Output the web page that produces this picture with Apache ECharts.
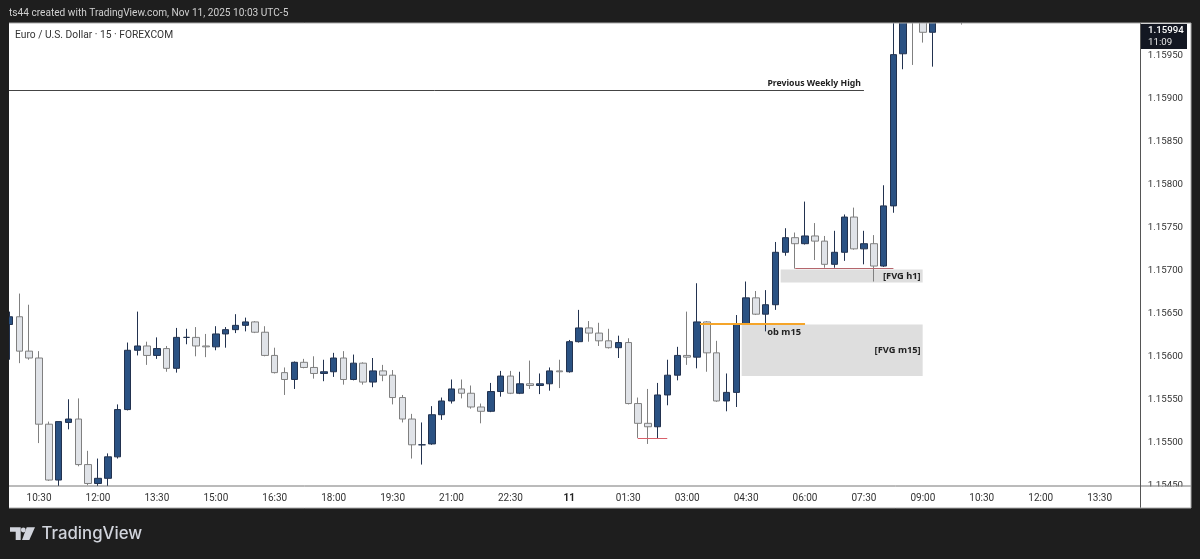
<!DOCTYPE html>
<html><head><meta charset="utf-8">
<style>html,body{margin:0;padding:0;background:#1e1e1e}#c{width:1200px;height:559px}</style>
<script src="https://cdn.jsdelivr.net/npm/echarts@6/dist/echarts.min.js"></script>
</head><body><div id="c"></div>
<script>
const times = ['09:45','10:00','10:15','10:30','10:45','11:00','11:15','11:30','11:45','12:00','12:15','12:30','12:45','13:00','13:15','13:30','13:45','14:00','14:15','14:30','14:45','15:00','15:15','15:30','15:45','16:00','16:15','16:30','16:45','17:00','17:15','17:30','17:45','18:00','18:15','18:30','18:45','19:00','19:15','19:30','19:45','20:00','20:15','20:30','20:45','21:00','21:15','21:30','21:45','22:00','22:15','22:30','22:45','23:00','23:15','23:30','23:45','11','00:15','00:30','00:45','01:00','01:15','01:30','01:45','02:00','02:15','02:30','02:45','03:00','03:15','03:30','03:45','04:00','04:15','04:30','04:45','05:00','05:15','05:30','05:45','06:00','06:15','06:30','06:45','07:00','07:15','07:30','07:45','08:00','08:15','08:30','08:45','09:00','09:15','09:30','09:45','10:00','10:15','10:30','10:45','11:00','11:15','11:30','11:45','12:00','12:15','12:30','12:45','13:00','13:15','13:30','13:45','14:00','14:15','14:30'];
const opens = [1.15637,1.15646,1.15606,1.15598,1.15521,1.15456,1.15523,1.15527,1.15474,1.15452,1.15458,1.15483,1.15538,1.15607,1.15612,1.15601,1.15609,1.15586,1.15622,1.15622,1.15612,1.15611,1.15626,1.15631,1.15636,1.15640,1.15628,1.15601,1.15581,1.15573,1.15593,1.15587,1.15580,1.15582,1.15598,1.15573,1.15592,1.15570,1.15583,1.15578,1.15552,1.15527,1.15497,1.15498,1.15532,1.15548,1.15562,1.15557,1.15541,1.15536,1.15559,1.15577,1.15557,1.15568,1.15566,1.15568,1.15583,1.15582,1.15617,1.15633,1.15627,1.15618,1.15610,1.15616,1.15545,1.15522,1.15518,1.15555,1.15578,1.15601,1.15599,1.15640,1.15604,1.15548,1.15558,1.15638,1.15668,1.15649,1.15660,1.15721,1.15738,1.15731,1.15740,1.15734,1.15707,1.15721,1.15762,1.15725,1.15731,1.15705,1.15775,1.15952,1.16006,1.15996,1.15977,1.15997,1.16000,1.15998];
const closes = [1.15646,1.15606,1.15598,1.15521,1.15456,1.15524,1.15527,1.15474,1.15452,1.15458,1.15483,1.15538,1.15607,1.15612,1.15601,1.15609,1.15586,1.15622,1.15622,1.15612,1.15611,1.15626,1.15631,1.15636,1.15640,1.15628,1.15601,1.15581,1.15573,1.15593,1.15587,1.15580,1.15582,1.15598,1.15573,1.15592,1.15570,1.15583,1.15578,1.15552,1.15527,1.15497,1.15497,1.15532,1.15548,1.15562,1.15557,1.15541,1.15536,1.15559,1.15577,1.15557,1.15568,1.15566,1.15568,1.15583,1.15582,1.15617,1.15633,1.15627,1.15618,1.15610,1.15616,1.15545,1.15522,1.15518,1.15555,1.15578,1.15601,1.15599,1.15640,1.15604,1.15548,1.15558,1.15638,1.15668,1.15649,1.15660,1.15721,1.15738,1.15731,1.15740,1.15734,1.15707,1.15721,1.15762,1.15725,1.15731,1.15705,1.15775,1.15951,1.16003,1.15996,1.15977,1.15997,1.16000,1.15998,1.15994];
const lows = [1.15596,1.15592,1.15596,1.15499,1.15455,1.15449,1.15515,1.15472,1.15450,1.15449,1.15449,1.15481,1.15537,1.15601,1.15590,1.15597,1.15582,1.15581,1.15614,1.15600,1.15599,1.15607,1.15610,1.15627,1.15629,1.15627,1.15600,1.15580,1.15555,1.15562,1.15586,1.15574,1.15571,1.15576,1.15567,1.15572,1.15567,1.15564,1.15571,1.15544,1.15523,1.15481,1.15474,1.15497,1.15526,1.15545,1.15551,1.15539,1.15522,1.15535,1.15553,1.15556,1.15556,1.15562,1.15556,1.15560,1.15563,1.15581,1.15616,1.15617,1.15612,1.15609,1.15598,1.15544,1.15505,1.15498,1.15504,1.15543,1.15572,1.15590,1.15586,1.15582,1.15547,1.15536,1.15541,1.15637,1.15648,1.15629,1.15654,1.15717,1.15702,1.15730,1.15712,1.15703,1.15703,1.15711,1.15724,1.15707,1.15687,1.15704,1.15767,1.15934,1.15939,1.15965,1.15937,1.15991,1.15992,1.15986];
const highs = [1.15652,1.15673,1.15660,1.15606,1.15524,1.15524,1.15550,1.15551,1.15490,1.15481,1.15487,1.15544,1.15616,1.15652,1.15617,1.15622,1.15612,1.15633,1.15632,1.15634,1.15626,1.15635,1.15634,1.15649,1.15645,1.15641,1.15635,1.15610,1.15587,1.15594,1.15597,1.15600,1.15596,1.15604,1.15606,1.15602,1.15593,1.15598,1.15590,1.15584,1.15555,1.15533,1.15523,1.15542,1.15552,1.15573,1.15573,1.15566,1.15545,1.15569,1.15583,1.15583,1.15582,1.15595,1.15580,1.15587,1.15596,1.15619,1.15654,1.15641,1.15639,1.15632,1.15624,1.15621,1.15552,1.15562,1.15569,1.15596,1.15611,1.15652,1.15685,1.15641,1.15618,1.15580,1.15648,1.15687,1.15676,1.15677,1.15733,1.15749,1.15744,1.15780,1.15755,1.15740,1.15746,1.15765,1.15773,1.15746,1.15741,1.15799,1.15997,1.16009,1.16009,1.16003,1.16003,1.16005,1.16004,1.16000];
const yTicks = {min:1.1545, max:1.159878, step:0.0005};
const fvgM15 = {name:'[FVG m15]', from:74.55, to:92.98, hi:1.15637, lo:1.15577};
const fvgH1 = {name:'[FVG h1]', from:78.52, to:92.98, hi:1.15701, lo:1.15686};
const prevHigh = {name:'Previous Weekly High', from:-0.5, to:87, price:1.15909};
const orderBlock = {name:'ob m15', from:70.3, to:81, price:1.15638};
const lowLine = {from:63.96, to:66.97, price:1.15505};
const h1Line = {from:80, to:90, price:1.15702};
const lastPrice = '1.15994', countdown = '11:09';
const headerText = 'ts44 created with TradingView.com, Nov 11, 2025 10:03 UTC-5';
const symbolText = 'Euro / U.S. Dollar · 15 · FOREXCOM';

const F = 'Roboto, sans-serif', A = '"Noto Sans", sans-serif';
const candles = opens.map((o,i)=>[o,closes[i],lows[i],highs[i]]);
const annoLabel = {show:true,color:'#222',fontFamily:A,fontWeight:'bold',fontSize:9.3};
const mk = (o,color,width,extra)=>[{coord:[o.from,o.price],lineStyle:{color,width,type:'solid'},...(extra||{})},{coord:[o.to,o.price]}];
const zone = o=>[{coord:[o.from,o.hi],name:o.name},{coord:[o.to,o.lo]}];

const chart = echarts.init(document.getElementById('c'),null,{renderer:'canvas'});
chart.setOption({
  animation:false,
  backgroundColor:'#1e1e1e',
  grid:{left:4.7,top:23,width:1139.12,bottom:73.8,containLabel:false},
  xAxis:[
    {type:'category',data:times,offset:0.8,z:20,boundaryGap:true,
     axisLine:{show:false},axisTick:{show:false},splitLine:{show:false},
     axisLabel:{color:'#333',fontFamily:F,fontSize:10,margin:7,hideOverlap:false,
       interval:i=>(i-3)%6===0,
       formatter:v=>v==='11'?'{d|11}':v,
       rich:{d:{fontWeight:'bold',color:'#222',fontFamily:F,fontSize:10}}}},
    {type:'value',min:-0.5,max:115.5,show:false}
  ],
  yAxis:{type:'value',position:'right',min:yTicks.min,max:yTicks.max,interval:yTicks.step,z:5,
    axisLine:{show:false},axisTick:{show:false},splitLine:{show:false},
    axisLabel:{color:'#333',fontFamily:F,fontSize:9.7,margin:4,showMaxLabel:false,align:'left',
      formatter:v=>v.toFixed(5)}},
  series:[
    {type:'line',name:'zones',xAxisIndex:1,data:[],z:1,silent:true,
     markArea:{silent:true,z:1,itemStyle:{color:'#dedede'},
       label:{show:true,position:'insideRight',distance:2,color:'#222',fontFamily:A,fontWeight:'bold',fontSize:9.3},
       data:[zone(fvgM15),zone(fvgH1)]}},
    {type:'candlestick',name:'EURUSD',data:candles,barWidth:7,clip:false,z:2,
     itemStyle:{color:'#2b5283',color0:'#e0e3e8',borderColor:'#22324f',borderColor0:'#808080',borderWidth:1}},
    {type:'line',name:'levels',xAxisIndex:1,data:[],z:3,silent:true,
     markLine:{silent:true,symbol:'none',z:3,precision:6,animation:false,
       data:[
         mk(prevHigh,'#444',1,{name:prevHigh.name,label:{...annoLabel,fontSize:8.7,position:'insideEndTop',distance:[3,3],formatter:prevHigh.name}}),
         mk(orderBlock,'#f5a52a',2,{name:orderBlock.name,label:{...annoLabel,position:'insideEndBottom',distance:[4,4],formatter:orderBlock.name}}),
         mk(lowLine,'#d9606a',1,{label:{show:false}}),
         mk(h1Line,'#b5666c',1,{label:{show:false}})
       ]}}
  ],
  graphic:[
    {type:'rect',z:-1,shape:{x:9,y:23,width:1182,height:485},style:{fill:'#fff'}},
    {type:'rect',z:10,shape:{x:0,y:0,width:1200,height:23},style:{fill:'#1e1e1e'}},
    {type:'rect',z:10,shape:{x:0,y:0,width:9,height:559},style:{fill:'#1e1e1e'}},
    {type:'rect',z:10,shape:{x:9,y:486.5,width:1182,height:21.5},style:{fill:'#fff'}},
    {type:'line',z:12,shape:{x1:9,y1:486,x2:1191,y2:486},style:{stroke:'#777',lineWidth:1}},
    {type:'line',z:12,shape:{x1:1140.5,y1:23,x2:1140.5,y2:508},style:{stroke:'#555',lineWidth:1}},
    {type:'line',z:12,shape:{x1:9,y1:23,x2:1191,y2:23},style:{stroke:'#aaa',lineWidth:1}},
    {type:'line',z:12,shape:{x1:1191,y1:23,x2:1191,y2:508},style:{stroke:'#aaa',lineWidth:1}},
    {type:'line',z:12,shape:{x1:9,y1:508,x2:1191,y2:508},style:{stroke:'#aaa',lineWidth:1}},
    {type:'text',z:13,style:{x:9,y:13,text:headerText,fill:'#d0d0d0',font:'10.15px '+F,textVerticalAlign:'middle'}},
    {type:'text',z:13,style:{x:15,y:35,text:symbolText,fill:'#333',font:'10.25px '+F,textVerticalAlign:'middle'}},
    {type:'rect',z:13,shape:{x:1141,y:24,width:46,height:25},style:{fill:'#131722'}},
    {type:'text',z:14,style:{x:1148,y:30.5,text:lastPrice,fill:'#fff',font:'500 9.7px '+F,textVerticalAlign:'middle'}},
    {type:'text',z:14,style:{x:1148,y:42.5,text:countdown,fill:'#e6e6e6',font:'9.7px '+F,textVerticalAlign:'middle'}},
    {type:'polygon',z:13,shape:{points:[[10,527.3],[20.7,527.3],[20.7,540],[15.7,540],[15.7,531.7],[10,531.7]]},style:{fill:'#d1d4dc'}},
    {type:'circle',z:13,shape:{cx:23.3,cy:530,r:2.4},style:{fill:'#d1d4dc'}},
    {type:'polygon',z:13,shape:{points:[[26.7,527.3],[35,527.3],[29.3,540],[22,540]]},style:{fill:'#d1d4dc'}},
    {type:'text',z:13,style:{x:41.5,y:534,text:'TradingView',fill:'#d1d4dc',font:'500 16.8px Inter, sans-serif',textVerticalAlign:'middle'}}
  ]
});
</script></body></html>
